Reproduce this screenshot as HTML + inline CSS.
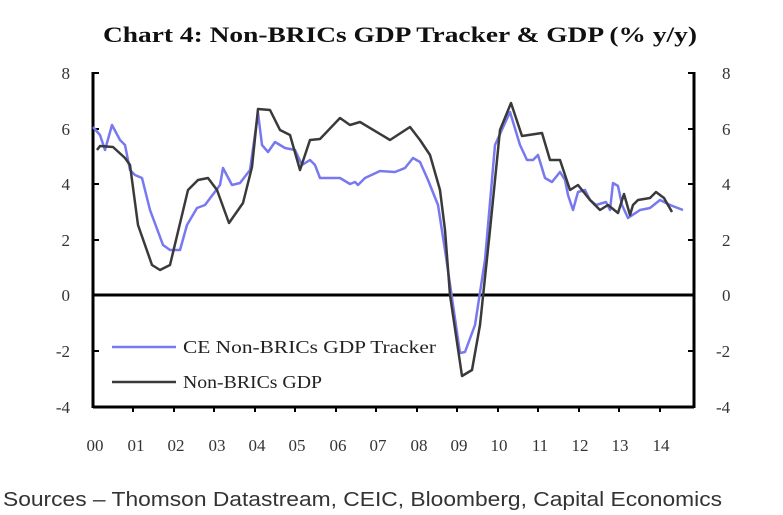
<!DOCTYPE html>
<html><head><style>body{margin:0;background:#fff;}svg{display:block}</style></head><body>
<svg width="783" height="515" xmlns="http://www.w3.org/2000/svg" font-family="'Liberation Serif',serif">
<text x="103" y="42" textLength="594" lengthAdjust="spacingAndGlyphs" font-size="22" font-weight="bold" fill="#111">Chart 4: Non-BRICs GDP Tracker &amp; GDP (% y/y)</text>
<g stroke="#000" stroke-width="3" fill="none">
<line x1="93" y1="72" x2="93" y2="408"/><line x1="694" y1="72" x2="694" y2="408"/>
<line x1="93" y1="295" x2="694" y2="295"/><line x1="93" y1="407" x2="694" y2="407"/>
</g>
<g stroke="#000" stroke-width="2">
<line x1="93" y1="73" x2="99" y2="73"/><line x1="93" y1="129" x2="99" y2="129"/><line x1="93" y1="184" x2="99" y2="184"/><line x1="93" y1="240" x2="99" y2="240"/><line x1="93" y1="351" x2="99" y2="351"/>
<line x1="688" y1="73" x2="694" y2="73"/><line x1="688" y1="129" x2="694" y2="129"/><line x1="688" y1="184" x2="694" y2="184"/><line x1="688" y1="240" x2="694" y2="240"/><line x1="688" y1="351" x2="694" y2="351"/>
<line x1="133" y1="407" x2="133" y2="412"/><line x1="174" y1="407" x2="174" y2="412"/><line x1="214" y1="407" x2="214" y2="412"/><line x1="255" y1="407" x2="255" y2="412"/><line x1="295" y1="407" x2="295" y2="412"/><line x1="336" y1="407" x2="336" y2="412"/><line x1="376" y1="407" x2="376" y2="412"/><line x1="417" y1="407" x2="417" y2="412"/><line x1="457" y1="407" x2="457" y2="412"/><line x1="498" y1="407" x2="498" y2="412"/><line x1="538" y1="407" x2="538" y2="412"/><line x1="579" y1="407" x2="579" y2="412"/><line x1="619" y1="407" x2="619" y2="412"/><line x1="660" y1="407" x2="660" y2="412"/>
</g>
<g font-size="17" fill="#333" text-anchor="end">
<text x="70" y="79">8</text><text x="70" y="135">6</text><text x="70" y="190">4</text><text x="70" y="246">2</text><text x="70" y="301">0</text><text x="70" y="357">-2</text><text x="70" y="413">-4</text>
</g>
<g font-size="17" fill="#333" text-anchor="start">
<text x="722" y="79">8</text><text x="722" y="135">6</text><text x="722" y="190">4</text><text x="722" y="246">2</text><text x="722" y="301">0</text><text x="716" y="357">-2</text><text x="716" y="413">-4</text>
</g>
<g font-size="17" fill="#333" text-anchor="middle">
<text x="95" y="451">00</text><text x="136" y="451">01</text><text x="176" y="451">02</text><text x="217" y="451">03</text><text x="257" y="451">04</text><text x="297" y="451">05</text><text x="338" y="451">06</text><text x="378" y="451">07</text><text x="419" y="451">08</text><text x="459" y="451">09</text><text x="499" y="451">10</text><text x="540" y="451">11</text><text x="580" y="451">12</text><text x="620" y="451">13</text><text x="661" y="451">14</text>
</g>
<polyline fill="none" stroke="#7878f0" stroke-width="2.5" stroke-linejoin="round" points="93,127 100,135 105,150 112,125 120,140 125,145 130,170 135,175 142,178 150,210 163,245 170,250 180,250 187,225 197,208 205,205 220,185 223,168 232,185 240,183 250,170 258,113 262,145 268,152 275,142 285,148 295,150 302,165 310,160 315,165 320,178 340,178 350,184 355,182 358,185 365,178 380,171 395,172 405,168 413,158 420,162 428,180 438,205 445,250 460,353 465,352 475,325 485,260 495,145 510,112 520,145 527,160 533,160 538,155 545,178 552,182 560,172 565,180 568,195 573,210 578,192 585,190 590,200 596,205 606,202 610,210 613,183 618,186 622,205 628,218 640,210 650,208 660,200 670,205 683,210"/>
<polyline fill="none" stroke="#3a3a3a" stroke-width="2.5" stroke-linejoin="round" points="97,150 100,146 113,147 125,158 130,165 138,225 152,265 160,270 170,265 188,190 198,180 208,178 217,190 229,223 243,203 252,167 258,109 270,110 280,130 290,135 300,170 310,140 320,139 340,118 350,125 360,122 390,140 410,127 420,140 430,155 440,190 445,230 450,295 462,376 472,370 480,325 490,230 500,130 511,103 522,136 542,133 550,160 560,160 570,190 578,185 590,200 600,210 608,205 618,213 624,194 630,215 633,205 638,200 650,198 656,192 664,198 672,212"/>
<line x1="112" y1="347" x2="176" y2="347" stroke="#7878f0" stroke-width="2.5"/>
<line x1="112" y1="382" x2="176" y2="382" stroke="#3a3a3a" stroke-width="2.5"/>
<text x="183" y="353" textLength="253" lengthAdjust="spacingAndGlyphs" font-size="18" fill="#222">CE Non-BRICs GDP Tracker</text>
<text x="183" y="388" textLength="139" lengthAdjust="spacingAndGlyphs" font-size="18" fill="#222">Non-BRICs GDP</text>
<text x="3" y="506" textLength="719" lengthAdjust="spacingAndGlyphs" font-family="'Liberation Sans',sans-serif" font-size="20" fill="#333">Sources – Thomson Datastream, CEIC, Bloomberg, Capital Economics</text>
</svg>
</body></html>
